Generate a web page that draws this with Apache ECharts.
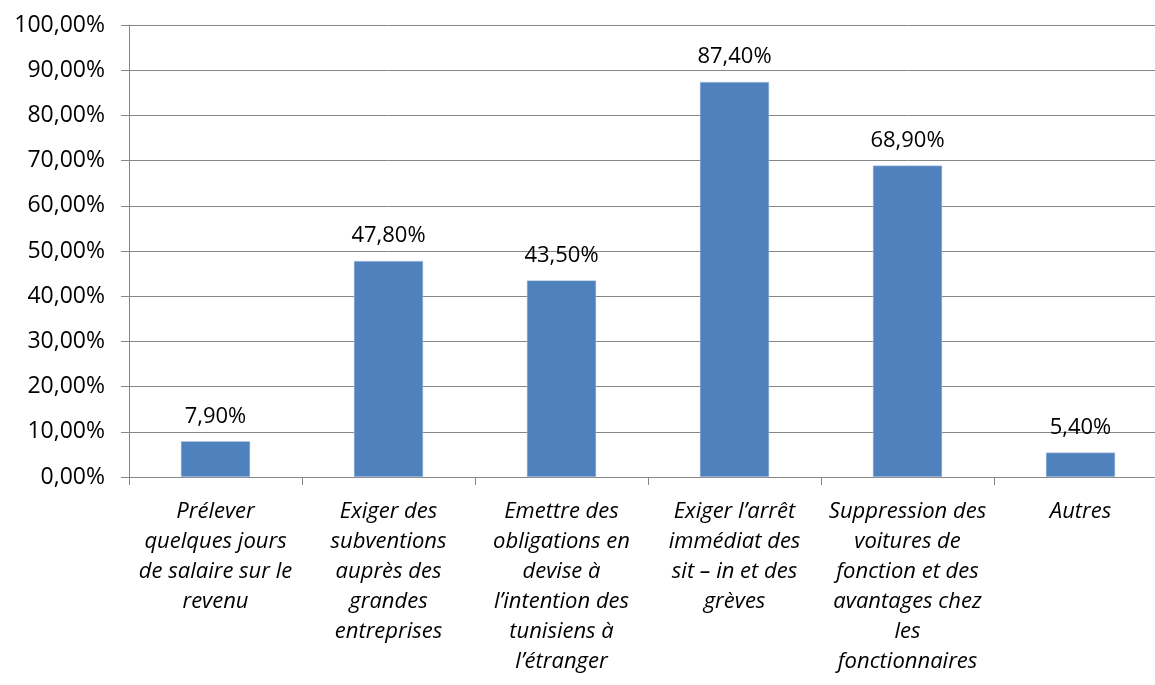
<!DOCTYPE html>
<html>
<head>
<meta charset="utf-8">
<style>
  html, body { margin: 0; padding: 0; background: #fff; overflow: hidden; }
  /* the last category runs slightly past the right edge of the window */
  #chart { width: 1167px; height: 685px; }
</style>
<script src="https://cdn.jsdelivr.net/npm/echarts@6/dist/echarts.min.js"></script>
</head>
<body>
<div id="chart"></div>
<script>
// Mesures proposées et part des répondants (%)
const categories = [
  'Prélever\nquelques jours\nde salaire sur le\nrevenu',
  'Exiger des\nsubventions\nauprès des\ngrandes\nentreprises',
  'Emettre des\nobligations en\ndevise à\nl’intention des\ntunisiens à\nl’étranger',
  'Exiger l’arrêt\nimmédiat des\nsit – in et des\ngrèves',
  'Suppression des\nvoitures de\nfonction et des\navantages chez\nles\nfonctionnaires',
  'Autres'
];
const values = [7.9, 47.8, 43.5, 87.4, 68.9, 5.4];
const yMin = 0;
const yMax = 100;
const yStep = 10;

const fmt = v => v.toFixed(2).replace('.', ',') + '%';
const font = '"Open Sans", "Noto Sans", sans-serif';

const chart = echarts.init(document.getElementById('chart'));
chart.setOption({
  animation: false,
  grid: { left: 129, right: 0, top: 25, bottom: 208, containLabel: false },
  xAxis: {
    type: 'category',
    data: categories,
    axisLine: { lineStyle: { color: '#868686', width: 1 } },
    axisTick: { show: true, length: 8, lineStyle: { color: '#868686' } },
    axisLabel: {
      interval: 0,
      margin: 20,
      fontFamily: font,
      fontStyle: 'italic',
      fontSize: 22,
      lineHeight: 30,
      color: '#000',
      align: 'center'
    }
  },
  yAxis: {
    type: 'value',
    min: yMin,
    max: yMax,
    interval: yStep,
    axisLine: { show: true, lineStyle: { color: '#868686', width: 1 } },
    axisTick: { show: true, length: 8, lineStyle: { color: '#868686' } },
    splitLine: { lineStyle: { color: '#868686', width: 1 } },
    axisLabel: {
      margin: 24,
      fontFamily: font,
      fontSize: 23,
      color: '#000',
      formatter: fmt
    }
  },
  series: [{
    type: 'bar',
    data: values,
    barWidth: '40%',
    itemStyle: { color: '#4F81BD', borderColor: '#B9CDE5', borderWidth: 0.5 },
    label: {
      show: true,
      position: 'top',
      distance: 14,
      fontFamily: font,
      fontSize: 22,
      color: '#000',
      formatter: p => fmt(p.value)
    }
  }]
});
</script>
</body>
</html>
